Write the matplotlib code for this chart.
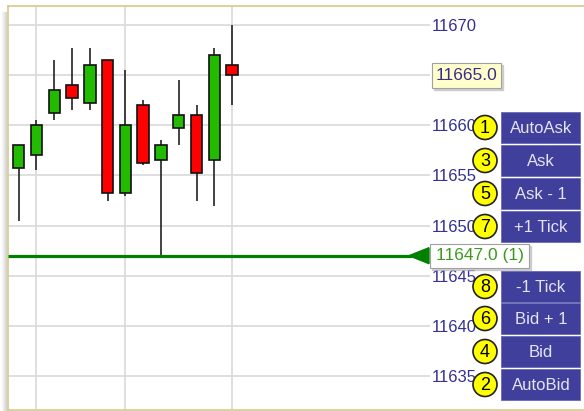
import matplotlib.pyplot as plt
from matplotlib.patches import Rectangle, Polygon, Circle
import numpy as np

plt.rcParams['font.family'] = ['Liberation Sans', 'DejaVu Sans']

# candle data (oldest -> newest)
opens = [11655.75, 11657, 11661.25, 11664, 11662.25, 11666.5, 11653.25,
         11662, 11656.5, 11659.75, 11661, 11656.5, 11666]
highs = [11658, 11660.5, 11666.5, 11667.75, 11667.75, 11666.5, 11665.5,
         11662.5, 11658.5, 11664.5, 11662, 11667.75, 11670]
lows = [11650.5, 11655.5, 11660.5, 11661.5, 11661.5, 11652.5, 11653,
        11656, 11647, 11658, 11652.5, 11652, 11662]
closes = [11658, 11660, 11663.5, 11662.75, 11666, 11653.25, 11660,
          11656.25, 11658, 11661, 11655.25, 11667, 11665]

price_ticks = [11635, 11640, 11645, 11650, 11655, 11660, 11665, 11670]
time_grid = [1, 6, 12]
last_price = 11665.0
position_price = 11647.0
position_qty = 1

button_labels = ["AutoAsk", "Ask", "Ask - 1", "+1 Tick",
                 "-1 Tick", "Bid + 1", "Bid", "AutoBid"]
button_keys = [1, 3, 5, 7, 8, 6, 4, 2]
button_tops = [112, 145, 178, 211, 271, 303, 336, 369]

W, H = 584, 411
fig = plt.figure(figsize=(W / 100, H / 100), dpi=100)
fig.patch.set_facecolor('white')

ax = fig.add_axes([8 / W, 1 - 410 / H, (430 - 8) / W, (410 - 6) / H])
ax.set_xlim(-0.602, 23.13)
ax.set_ylim(11631.62, 11671.89)
for s in ax.spines.values():
    s.set_visible(False)
ax.set_xticks(time_grid)
ax.set_yticks(price_ticks)
# the last-price tooltip sits on top of this label, so leave it blank
ax.set_yticklabels(['' if p == last_price else str(p) for p in price_ticks])
ax.yaxis.tick_right()
ax.tick_params(axis='x', length=0, labelbottom=False)
ax.tick_params(axis='y', length=0, pad=1.5, labelsize=12, labelcolor='#33308f')
ax.grid(color='#d9d9d9', lw=1.2)
ax.set_axisbelow(True)

x = np.arange(len(opens))
o, h, l, c = map(np.array, (opens, highs, lows, closes))
up = c >= o
colors = np.where(up, '#22bb00', '#ff0000')
ax.vlines(x, l, h, color='#222222', lw=1.2, zorder=2)
ax.bar(x, np.abs(c - o), bottom=np.minimum(o, c), width=0.64,
       color=colors, edgecolor='#111111', lw=1.2, zorder=3)

# overlay in pixel coordinates
over = fig.add_axes([0, 0, 1, 1])
over.set_xlim(0, W)
over.set_ylim(H, 0)
over.axis('off')
over.patch.set_alpha(0)


def py(price):
    return H - ax.transData.transform((0, price))[1]


# frame + left shadow
for i, g in enumerate(['#f6f6f6', '#efefef', '#e6e6e6', '#dddddd', '#d4d4d4']):
    over.plot([2 + i, 2 + i], [12, H], color=g, lw=0.8)
over.plot([8, 8], [6, 410], color='#d6ca8c', lw=1.2)
over.plot([8, W], [6, 6], color='#d6ca8c', lw=1.2)
over.plot([8, W], [410, 410], color='#d6ca8c', lw=1.2)

# position line with arrow
yp = py(position_price)
over.plot([8, 412], [yp, yp], color='#008000', lw=2.3, solid_capstyle='butt')
over.add_patch(Polygon([[409, yp], [429, yp - 8], [429, yp + 8]],
                       closed=True, color='#008000'))
over.add_patch(Rectangle((432, yp - 10), 99, 24, color='#b8b8b8', alpha=0.6))
over.add_patch(Rectangle((430, yp - 12), 99, 24, facecolor='white',
                         edgecolor='#a0a0a0', lw=0.8))
over.text(436, yp, f"{position_price:.1f} ({position_qty})", color='#3c9a1e',
          fontsize=12.5, va='center', ha='left')

# last price tooltip
yl = py(last_price)
over.add_patch(Rectangle((434, yl - 10), 69, 25, color='#b8b8b8', alpha=0.6))
over.add_patch(Rectangle((432, yl - 12.5), 69, 25, facecolor='#ffffcc',
                         edgecolor='#a0a0a0', lw=0.8))
over.text(466.5, yl, f"{last_price:.1f}", color='#3a2c8c', fontsize=12.5,
          va='center', ha='center')

# order buttons
for lab, key, top in zip(button_labels, button_keys, button_tops):
    over.add_patch(Rectangle((501, top), 79, 31, facecolor='#40409c',
                             edgecolor='#6a6ab8', lw=0.6))
    over.text(541, top + 16, lab, color='#e4e4f4', fontsize=12,
              ha='center', va='center')
    over.add_patch(Circle((485, top + 15.5), 12, facecolor='#ffff00',
                          edgecolor='#222222', lw=1.2, zorder=5))
    over.text(485, top + 16.5, str(key), color='black', fontsize=13,
              ha='center', va='center', zorder=6)

fig.savefig('out.png', dpi=100)
